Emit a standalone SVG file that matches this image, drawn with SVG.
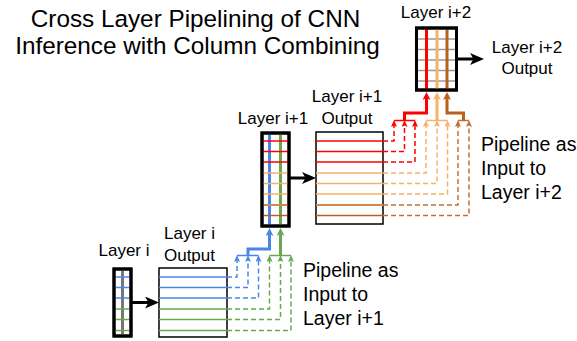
<svg xmlns="http://www.w3.org/2000/svg" width="577" height="341" viewBox="0 0 577 341">
<style>
text{font-family:"Liberation Sans",Arial,sans-serif;fill:#000}
.title{font-size:24.3px;text-anchor:middle}
.lbl{font-size:17px;text-anchor:middle}
.pipe{font-size:19.5px}
.box{fill:#fff;stroke:#000;stroke-width:3}
.obox{fill:#fff;stroke:#000;stroke-width:1.5}
.row{stroke-width:1.5;fill:none}
.col{stroke-width:3;fill:none}
.dash{stroke-width:1.5;fill:none;stroke-dasharray:5,3}
.bar{stroke-width:1.5;fill:none}
.thick{stroke-width:3;fill:none}
.blk{stroke:#000;stroke-width:3;fill:none}
.gray{stroke:#999;stroke-width:1.5}
.b{stroke:#4a86e8}.g{stroke:#6aa84f}.r{stroke:#ff0000}.p{stroke:#f6b26b}.o{stroke:#cf8a52}.n{stroke:#b8611f}
</style>
<defs>
<marker id="aBlk" markerUnits="userSpaceOnUse" viewBox="0 0 14 12" markerWidth="14" markerHeight="12" refX="10" refY="6" orient="auto"><path d="M0,0 L14,6 L0,12 L3.5,6 Z" fill="#000"/></marker>
<marker id="tb" markerUnits="userSpaceOnUse" viewBox="0 0 8 8" markerWidth="8" markerHeight="8" refX="5" refY="4" orient="auto"><path d="M0,0 L8,4 L0,8 L2,4 Z" fill="#4a86e8"/></marker>
<marker id="tg" markerUnits="userSpaceOnUse" viewBox="0 0 8 8" markerWidth="8" markerHeight="8" refX="5" refY="4" orient="auto"><path d="M0,0 L8,4 L0,8 L2,4 Z" fill="#6aa84f"/></marker>
<marker id="tr" markerUnits="userSpaceOnUse" viewBox="0 0 8 8" markerWidth="8" markerHeight="8" refX="5" refY="4" orient="auto"><path d="M0,0 L8,4 L0,8 L2,4 Z" fill="#ff0000"/></marker>
<marker id="tp" markerUnits="userSpaceOnUse" viewBox="0 0 8 8" markerWidth="8" markerHeight="8" refX="5" refY="4" orient="auto"><path d="M0,0 L8,4 L0,8 L2,4 Z" fill="#f6b26b"/></marker>
<marker id="tn" markerUnits="userSpaceOnUse" viewBox="0 0 8 8" markerWidth="8" markerHeight="8" refX="5" refY="4" orient="auto"><path d="M0,0 L8,4 L0,8 L2,4 Z" fill="#b8611f"/></marker>
<marker id="sb" markerUnits="userSpaceOnUse" viewBox="0 0 7 6" markerWidth="7" markerHeight="6" refX="4" refY="3" orient="auto"><path d="M0,0 L7,3 L0,6 L1.5,3 Z" fill="#4a86e8"/></marker>
<marker id="sg" markerUnits="userSpaceOnUse" viewBox="0 0 7 6" markerWidth="7" markerHeight="6" refX="4" refY="3" orient="auto"><path d="M0,0 L7,3 L0,6 L1.5,3 Z" fill="#6aa84f"/></marker>
<marker id="sr" markerUnits="userSpaceOnUse" viewBox="0 0 7 6" markerWidth="7" markerHeight="6" refX="4" refY="3" orient="auto"><path d="M0,0 L7,3 L0,6 L1.5,3 Z" fill="#ff0000"/></marker>
<marker id="sp" markerUnits="userSpaceOnUse" viewBox="0 0 7 6" markerWidth="7" markerHeight="6" refX="4" refY="3" orient="auto"><path d="M0,0 L7,3 L0,6 L1.5,3 Z" fill="#f6b26b"/></marker>
<marker id="sn" markerUnits="userSpaceOnUse" viewBox="0 0 7 6" markerWidth="7" markerHeight="6" refX="4" refY="3" orient="auto"><path d="M0,0 L7,3 L0,6 L1.5,3 Z" fill="#c27035"/></marker>
</defs>
<rect width="577" height="341" fill="#fff"/>

<g id="title">
<text class="title" x="195.5" y="27">Cross Layer Pipelining of CNN</text>
<text class="title" x="197.5" y="54">Inference with Column Combining</text>
</g>

<g id="layer-i">
<text class="lbl" x="124" y="256">Layer i</text>
<rect class="box" x="114" y="269" width="17" height="67"/>
<line class="gray" x1="122.5" y1="269" x2="122.5" y2="336" style="stroke:#777;stroke-width:3"/>
<g class="row">
<line class="b" x1="114" y1="277" x2="131" y2="277"/>
<line class="b" x1="114" y1="287.5" x2="131" y2="287.5"/>
<line class="b" x1="114" y1="298" x2="131" y2="298"/>
<line class="g" x1="114" y1="309" x2="131" y2="309"/>
<line class="g" x1="114" y1="319.5" x2="131" y2="319.5"/>
<line class="g" x1="114" y1="330.5" x2="131" y2="330.5"/>
</g>
<rect x="114" y="269" width="17" height="67" fill="none" stroke="#000" stroke-width="3"/>
</g>

<g id="layer-i-output">
<text class="lbl" x="189.5" y="238.5">Layer i</text>
<text class="lbl" x="189.5" y="260.5">Output</text>
<rect class="obox" x="159" y="268" width="68" height="69"/>
<line class="row b" x1="159" y1="277" x2="227" y2="277"/>
<line class="row b" x1="159" y1="287.5" x2="227" y2="287.5"/>
<line class="row b" x1="159" y1="298" x2="227" y2="298"/>
<line class="row g" x1="159" y1="309" x2="227" y2="309"/>
<line class="row g" x1="159" y1="319.5" x2="227" y2="319.5"/>
<line class="row g" x1="159" y1="330.5" x2="227" y2="330.5"/>
</g>

<g id="layer-i1">
<text class="lbl" x="273" y="124">Layer i+1</text>
<rect class="box" x="262" y="133" width="27" height="93"/>
<line class="col b" x1="269.5" y1="133" x2="269.5" y2="226"/>
<line class="col g" x1="280.5" y1="133" x2="280.5" y2="226"/>
<line class="row r" x1="262" y1="141" x2="289" y2="141"/>
<line class="row r" x1="262" y1="151.5" x2="289" y2="151.5"/>
<line class="row r" x1="262" y1="162" x2="289" y2="162"/>
<line class="row p" x1="262" y1="173" x2="289" y2="173"/>
<line class="row p" x1="262" y1="183.5" x2="289" y2="183.5"/>
<line class="row p" x1="262" y1="194" x2="289" y2="194"/>
<line class="row o" x1="262" y1="205" x2="289" y2="205" style="stroke-width:2"/>
<line class="row n" x1="262" y1="215.5" x2="289" y2="215.5"/>
<rect x="262" y="133" width="27" height="93" fill="none" stroke="#000" stroke-width="3"/>
</g>

<g id="layer-i1-output">
<text class="lbl" x="347" y="102">Layer i+1</text>
<text class="lbl" x="347" y="124">Output</text>
<rect class="obox" x="316" y="132" width="67" height="92"/>
<line class="row r" x1="316" y1="141" x2="383" y2="141"/>
<line class="row r" x1="316" y1="151.5" x2="383" y2="151.5"/>
<line class="row r" x1="316" y1="162" x2="383" y2="162"/>
<line class="row p" x1="316" y1="173" x2="383" y2="173"/>
<line class="row p" x1="316" y1="183.5" x2="383" y2="183.5"/>
<line class="row p" x1="316" y1="194" x2="383" y2="194"/>
<line class="row o" x1="316" y1="205" x2="383" y2="205" style="stroke-width:2"/>
<line class="row n" x1="316" y1="215.5" x2="383" y2="215.5"/>
</g>

<g id="layer-i2">
<text class="lbl" x="436" y="18">Layer i+2</text>
<rect class="box" x="416.5" y="28" width="40" height="62"/>
<line class="gray" x1="416.5" y1="39" x2="456.5" y2="39"/>
<line class="gray" x1="416.5" y1="49.5" x2="456.5" y2="49.5"/>
<line class="gray" x1="416.5" y1="60" x2="456.5" y2="60"/>
<line class="gray" x1="416.5" y1="70.5" x2="456.5" y2="70.5"/>
<line class="gray" x1="416.5" y1="81" x2="456.5" y2="81"/>
<line class="col r" x1="426.5" y1="28" x2="426.5" y2="90"/>
<line class="col p" x1="437" y1="28" x2="437" y2="90"/>
<line class="col n" x1="447" y1="28" x2="447" y2="90"/>
<rect x="416.5" y="28" width="40" height="62" fill="none" stroke="#000" stroke-width="3"/>
</g>

<g id="layer-i2-output">
<text class="lbl" x="527" y="53">Layer i+2</text>
<text class="lbl" x="527" y="74">Output</text>
</g>

<g id="pipe-label-1">
<text class="pipe" x="303" y="277">Pipeline as</text>
<text class="pipe" x="303" y="301">Input to</text>
<text class="pipe" x="303" y="325">Layer i+1</text>
</g>
<g id="pipe-label-2">
<text class="pipe" x="481" y="151">Pipeline as</text>
<text class="pipe" x="481" y="175">Input to</text>
<text class="pipe" x="481" y="199">Layer i+2</text>
</g>

<g id="connectors">
<line class="blk" x1="131" y1="302.5" x2="155" y2="302.5" marker-end="url(#aBlk)"/>
<line class="blk" x1="289" y1="178" x2="312" y2="178" marker-end="url(#aBlk)"/>
<line class="blk" x1="456.5" y1="59" x2="480" y2="59" marker-end="url(#aBlk)"/>

<path class="dash b" d="M227,277 H237 V258" marker-end="url(#sb)"/>
<path class="dash b" d="M227,287.5 H248 V258" marker-end="url(#sb)"/>
<path class="dash b" d="M227,298 H258.5 V258" marker-end="url(#sb)"/>
<path class="dash g" d="M227,309 H269.5 V258" marker-end="url(#sg)"/>
<path class="dash g" d="M227,319.5 H280.5 V258" marker-end="url(#sg)"/>
<path class="dash g" d="M227,330.5 H291 V258" marker-end="url(#sg)"/>
<line class="bar b" x1="237" y1="255.5" x2="258.5" y2="255.5"/>
<line class="bar g" x1="269.5" y1="255.5" x2="291" y2="255.5"/>
<path class="thick b" d="M248,255.5 V249 H269.5 V231" marker-end="url(#tb)"/>
<path class="thick g" d="M280.5,255.5 V231" marker-end="url(#tg)"/>

<path class="dash r" d="M383,141 H394 V123" marker-end="url(#sr)"/>
<path class="dash r" d="M383,151.5 H404.5 V123" marker-end="url(#sr)"/>
<path class="dash r" d="M383,162 H415 V123" marker-end="url(#sr)"/>
<path class="dash p" d="M383,173 H426 V123" marker-end="url(#sp)"/>
<path class="dash p" d="M383,183.5 H437 V123" marker-end="url(#sp)"/>
<path class="dash p" d="M383,194 H447.5 V123" marker-end="url(#sp)"/>
<path class="dash o" d="M383,205 H458 V123" marker-end="url(#sn)" style="stroke:#c27035"/>
<path class="dash n" d="M383,215.5 H469 V123" marker-end="url(#sn)" style="stroke:#c27035"/>
<line class="bar r" x1="394" y1="120.5" x2="415" y2="120.5"/>
<line class="bar p" x1="426" y1="120.5" x2="447.5" y2="120.5"/>
<line class="bar n" x1="458" y1="120.5" x2="469" y2="120.5" style="stroke:#c27035"/>
<path class="thick r" d="M404.5,120.5 V113 H426.5 V95" marker-end="url(#tr)"/>
<path class="thick p" d="M437,120.5 V95" marker-end="url(#tp)"/>
<path class="thick n" d="M463.5,120.5 V113 H447 V95" marker-end="url(#tn)"/>
</g>
</svg>
